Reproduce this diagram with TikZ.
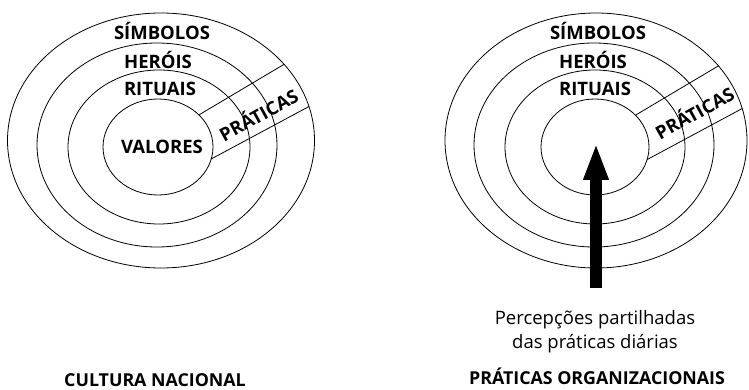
\documentclass[tikz,border=0pt]{standalone}
\usepackage{fontspec}
\setmainfont{Open Sans}
\usetikzlibrary{arrows.meta}

\begin{document}
\begin{tikzpicture}[
        x=1pt, y=-1pt,
        ring/.style={line width=0.8pt},
        schicht/.style={font=\bfseries\fontsize{18.5}{18.5}\selectfont, inner sep=0pt},
        titel/.style={font=\bfseries\fontsize{17.8}{17.8}\selectfont, inner sep=0pt, anchor=base}
    ]
    \useasboundingbox (0,0) rectangle (749,390);

    % Kultur links
    \begin{scope}
        \clip (161,140.5) ellipse [x radius=153.5pt, y radius=127.5pt];
        \draw[ring] (150,144) -- (330,37);
        \draw[ring] (160,186.5) -- (330,95.2);
    \end{scope}
    \draw[ring] (161,140.5) ellipse [x radius=153.5pt, y radius=127.5pt];
    \draw[ring] (157,145) ellipse [x radius=120pt, y radius=102pt];
    \draw[ring] (159,147) ellipse [x radius=91pt, y radius=77pt];
    \draw[ring, fill=white] (158,147) ellipse [x radius=55pt, y radius=48pt];

    \node[schicht] (simbolos) at (162,31) {SÍMBOLOS};
    \node[schicht] (herois) at (158,60) {HERÓIS};
    \node[schicht] (rituais) at (160,89) {RITUAIS};
    \node[schicht] (valores) at (162,147) {VALORES};
    \node[schicht, rotate=29] (praticas) at (258,114) {PRÁTICAS};

    \node[titel] (kultur) at (155,386) {CULTURA NACIONAL};

    % Organisation rechts
    \begin{scope}
        \clip (596,140.5) ellipse [x radius=151pt, y radius=127.5pt];
        \draw[ring] (587,144) -- (767,37);
        \draw[ring] (597,186.5) -- (767,95.2);
    \end{scope}
    \draw[ring] (596,140.5) ellipse [x radius=151pt, y radius=127.5pt];
    \draw[ring] (594,145) ellipse [x radius=120pt, y radius=102pt];
    \draw[ring] (595,147) ellipse [x radius=90pt, y radius=77pt];
    \draw[ring, fill=white] (595,147) ellipse [x radius=54pt, y radius=48pt];

    \node[schicht] (simbolos2) at (598,31) {SÍMBOLOS};
    \node[schicht] (herois2) at (593,60) {HERÓIS};
    \node[schicht] (rituais2) at (595,89) {RITUAIS};
    \node[schicht, rotate=29] (praticas2) at (694,112) {PRÁTICAS};

    % Pfeil
    \coordinate (fuss) at (596,288);
    \coordinate (spitze) at (596,143);
    \draw[line width=12pt, -{Triangle[length=37pt, width=23pt]}] (fuss) -- (spitze);

    \node[font=\fontsize{18.5}{24}\selectfont, align=center, inner sep=0pt] (wahrnehmung) at (595,332)
        {Percepções partilhadas\\das práticas diárias};
    \node[titel] (organisation) at (597,384) {PRÁTICAS ORGANIZACIONAIS};
\end{tikzpicture}
\end{document}
